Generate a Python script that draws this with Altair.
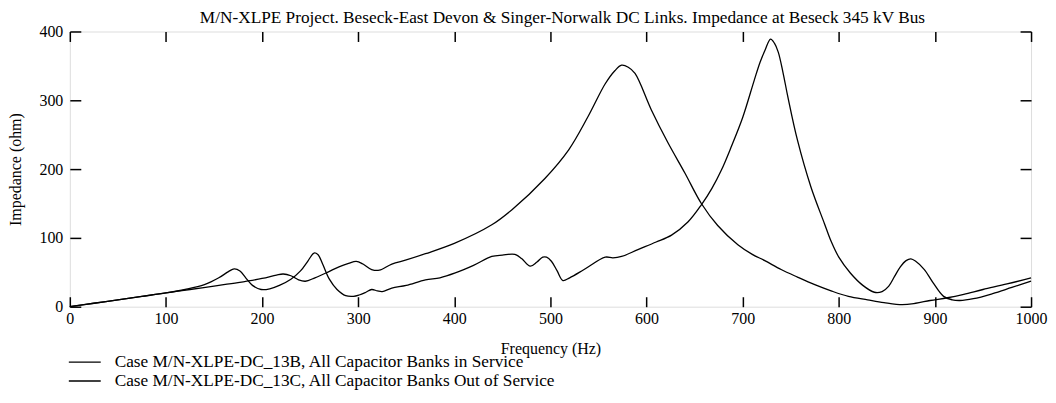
import altair as alt
import pandas as pd

# Case 13B (smooth curve, peak near 575 Hz)
freq_b = [0, 25, 50, 75, 100, 125, 150, 175, 200, 215, 222, 230, 238, 245, 255, 268, 280, 290, 298,
          305, 314, 322, 335, 350, 370, 400, 439, 460, 494, 519, 539, 557, 567, 574, 581, 588, 605,
          622, 640, 657, 674, 695, 710, 723, 740, 757, 775, 792, 810, 830, 847, 866, 880, 895, 913,
          930, 950, 975, 1000]
imp_b = [0, 5, 10, 15, 20, 25, 30, 35, 41, 46, 47.5, 45, 39, 37, 42, 50, 58, 63, 66,
         62, 54, 53, 62, 68, 77, 92, 119, 141, 186, 228, 276, 324, 343, 351, 348, 339, 286,
         239, 194, 150, 118, 90, 76, 67, 54, 43, 32, 23, 15, 10, 6, 3, 5, 9, 13,
         18, 25, 33, 42]

# Case 13C (resonant curve, peak near 729 Hz)
freq_c = [0, 25, 50, 75, 100, 120, 140, 155, 165, 171, 177, 183, 190, 199, 208, 218, 230, 240, 248,
          254, 258, 263, 270, 278, 287, 295, 301, 308, 314, 320, 325, 335, 350, 370, 385, 401, 420,
          439, 450, 463, 470, 479, 486, 492, 496, 501, 507, 513, 520, 535, 557, 565, 574, 591, 610,
          626, 643, 657, 668, 678, 688, 700, 712, 718, 723, 729, 733, 737, 742, 747, 757, 771, 785,
          792, 800, 812, 825, 837, 845, 852, 858, 864, 870, 875, 880, 889, 898, 909, 918, 926, 940,
          960, 980, 1000]
imp_c = [0, 5, 10, 15, 20, 25, 32, 42, 51, 55, 52, 42, 31, 25, 26, 31, 40, 52, 67,
         78, 76, 62, 40, 25, 16, 15, 17, 21, 25, 23, 22, 27, 31, 39, 42, 49, 60,
         73, 75, 76, 70, 59, 65, 72, 72, 66, 52, 38, 42, 54, 72, 71, 73, 83, 94,
         104, 123, 148, 172, 199, 232, 275, 329, 355, 372, 389, 383, 370, 340, 305, 242, 174, 121,
         95, 72, 49, 31, 21, 22, 30, 44, 58, 67, 69.5, 66, 54, 35, 15, 10, 9, 11.6,
         19, 28, 37]

series_names = ["Case M/N-XLPE-DC_13B, All Capacitor Banks in Service",
                "Case M/N-XLPE-DC_13C, All Capacitor Banks Out of Service"]
x_ticks = [0, 100, 200, 300, 400, 500, 600, 700, 800, 900, 1000]
y_ticks = [0, 100, 200, 300, 400]

title_text = "M/N-XLPE Project. Beseck-East Devon & Singer-Norwalk DC Links. Impedance at Beseck 345 kV Bus"

df = pd.concat([
    pd.DataFrame({"freq": freq_b, "imp": imp_b, "case": series_names[0]}),
    pd.DataFrame({"freq": freq_c, "imp": imp_c, "case": series_names[1]}),
])

FONT = "Liberation Serif"
FS = 16
xs = alt.Scale(domain=[0, 1000], nice=False, zero=False)
ys = alt.Scale(domain=[0, 400], nice=False, zero=False)

lines = alt.Chart(df).mark_line(strokeWidth=1.3, interpolate="catmull-rom").encode(
    x=alt.X("freq:Q", scale=xs, axis=alt.Axis(
        orient="bottom", values=x_ticks, format="d", ticks=False, domain=False, grid=False,
        labelFlush=False, labelPadding=4, title="Frequency (Hz)", titlePadding=14,
        labelFont=FONT, labelFontSize=FS, titleFont=FONT, titleFontSize=FS,
        titleFontWeight="normal", labelColor="black", titleColor="black")),
    y=alt.Y("imp:Q", scale=ys, axis=alt.Axis(
        orient="left", values=y_ticks, format="d", ticks=False, domain=False, grid=False,
        labelFlush=False, labelPadding=7, title="Impedance (ohm)", titlePadding=15,
        labelFont=FONT, labelFontSize=FS, titleFont=FONT, titleFontSize=FS,
        titleFontWeight="normal", labelColor="black", titleColor="black")),
    color=alt.Color("case:N", scale=alt.Scale(domain=series_names, range=["black", "black"]),
                    legend=alt.Legend(title=None, orient="none", legendX=-2, legendY=322,
                                      symbolType="stroke", symbolSize=1024, symbolStrokeWidth=1.3,
                                      labelFont=FONT, labelFontSize=17.3, labelColor="black",
                                      labelOffset=13, rowPadding=0, padding=0,
                                      clipHeight=19, labelLimit=0)),
)

def tick_layer(xorient, yorient):
    return alt.Chart(df).mark_line(strokeOpacity=0).encode(
        x=alt.X("freq:Q", scale=xs, axis=alt.Axis(
            orient=xorient, values=x_ticks, offset=-10, tickSize=10, tickWidth=1.5,
            tickColor="black", labels=False, domain=False, grid=False, title=None)),
        y=alt.Y("imp:Q", scale=ys, axis=alt.Axis(
            orient=yorient, values=y_ticks, offset=-11, tickSize=11, tickWidth=1.5,
            tickColor="black", labels=False, domain=False, grid=False, title=None)),
        detail="case:N",
    )

chart = alt.layer(lines, tick_layer("bottom", "left"), tick_layer("top", "right")).resolve_axis(
    x="independent", y="independent"
).properties(
    width=964, height=276,
    autosize=alt.AutoSizeParams(type="none"),
    padding={"left": 62, "top": 23, "right": 17, "bottom": 88},
    title=alt.TitleParams(title_text, font=FONT, fontSize=17.3, fontWeight="normal",
                          color="black", anchor="middle", offset=7, dx=12, dy=10),
).configure_view(stroke="black", strokeWidth=1.6).configure(background="white")

chart.save("out.html", embed_options={"renderer": "svg", "actions": False})
